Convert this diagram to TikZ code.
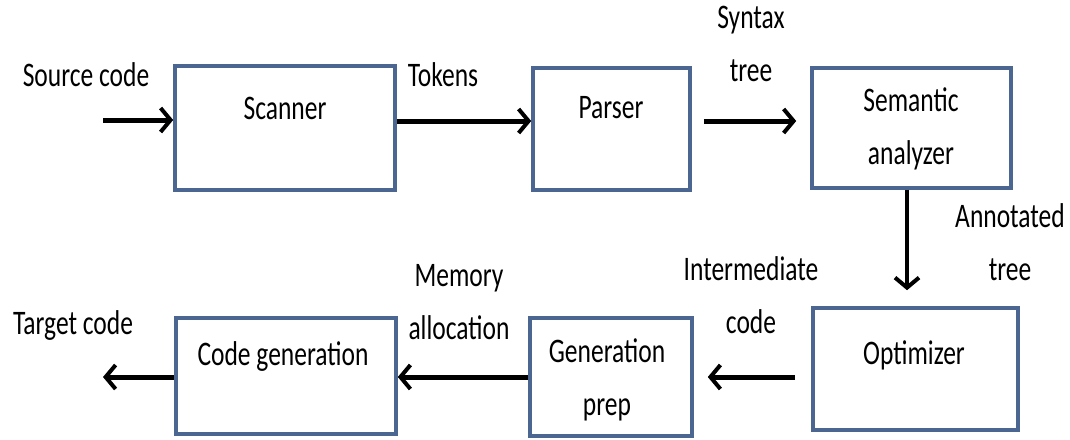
\documentclass[tikz,border=0pt]{standalone}
\usepackage{fontspec}
\setmainfont{Carlito}
\usepackage{graphicx}
\usetikzlibrary{arrows.meta}
\definecolor{boxblue}{HTML}{4B6690}
% tall, narrow lettering
\newcommand{\tall}[1]{\scalebox{1}[1.35]{#1}}
\newcommand{\twolines}[2]{\tall{\begin{tabular}{@{}c@{}}#1\\[9pt]#2\end{tabular}}}
\tikzset{
  stage/.style={draw=boxblue, line width=3.6pt, fill=white, inner sep=0pt},
  lbl/.style={inner sep=0pt, font=\fontsize{25.5}{30}\selectfont},
  flow/.style={line width=5pt, -{Straight Barb[length=10pt,width=24pt,line width=4pt]}},
}
\begin{document}
\begin{tikzpicture}[x=1pt,y=-1pt]
\useasboundingbox (0,0) rectangle (1070,439);

% processing stages
\node[stage, minimum width=220pt, minimum height=124pt] (scan) at (285,128) {};
\node[stage, minimum width=157pt, minimum height=122pt] (pars) at (611.5,129) {};
\node[stage, minimum width=199pt, minimum height=120pt] (sem)  at (911.5,128) {};
\node[stage, minimum width=205pt, minimum height=122pt] (opt)  at (915.5,369) {};
\node[stage, minimum width=162pt, minimum height=118pt] (prep) at (611,377) {};
\node[stage, minimum width=220pt, minimum height=116pt] (cgen) at (286,376) {};

% stage names
\node[lbl] (scan-t) at (285,108) {\tall{Scanner}};
\node[lbl] (pars-t) at (611,108) {\tall{Parser}};
\node[lbl] (sem-t)  at (911,130) {\twolines{Semantic}{analyzer}};
\node[lbl] (opt-t)  at (914,355) {\tall{Optimizer}};
\node[lbl] (prep-t) at (607,381) {\twolines{Generation}{prep}};
\node[lbl] (cgen-t) at (283,357) {\tall{Code generation}};

% data passed between stages
\node[lbl] (src)  at (86,75)   {\tall{Source code}};
\node[lbl] (tok)  at (443,75)  {\tall{Tokens}};
\node[lbl] (syn)  at (751,47)  {\twolines{Syntax}{tree}};
\node[lbl] (ann)  at (1010,246) {\twolines{Annotated}{tree}};
\node[lbl] (imc)  at (751,299) {\twolines{Intermediate}{code}};
\node[lbl] (mem)  at (459,305) {\twolines{Memory}{allocation}};
\node[lbl] (tgt)  at (73,326)  {\tall{Target code}};

% free ends of the input and output arrows
\coordinate (in)  at (103,120);
\coordinate (out) at (103,377);

% connectors
\draw[flow] (in) -- (scan.west |- in);
\draw[flow] (scan.east |- 0,121) -- (pars.west |- 0,121);
\draw[flow] ([xshift=12pt]pars.east |- 0,121) -- ([xshift=-14pt]sem.west |- 0,121);
\draw[flow, line width=3.6pt] (sem.south -| 907,0) -- ([yshift=16pt]opt.north -| 907,0);
\draw[flow] ([xshift=-16pt]opt.west |- 0,377) -- ([xshift=14pt]prep.east |- 0,377);
\draw[flow] (prep.west |- 0,377) -- (cgen.east |- 0,377);
\draw[flow] (cgen.west |- out) -- (out);
\end{tikzpicture}
\end{document}
